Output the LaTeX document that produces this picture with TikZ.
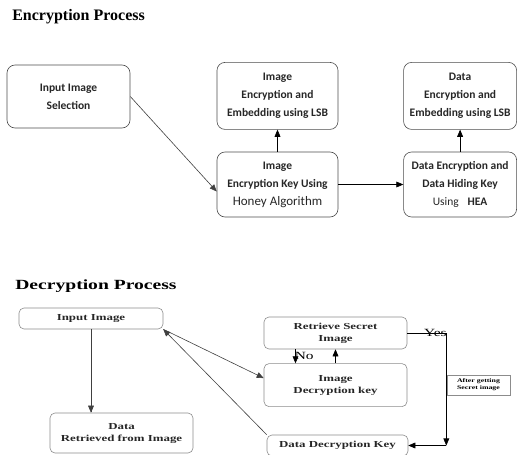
\documentclass[tikz,border=0pt]{standalone}
\usepackage{fontspec}
\setmainfont{Liberation Serif}
\newfontfamily\calfont{Carlito}
\newfontfamily\wideserif[FakeStretch=1.4]{Liberation Serif}
\usepackage{tikz}
\usetikzlibrary{arrows,positioning}

\begin{document}
\begin{tikzpicture}[x=1pt,y=-1pt,->,>=triangle 45,semithick,
		title node/.style={anchor=west, inner sep=0pt, font=\bfseries\fontsize{16}{18}\selectfont},
		enc node/.style={rectangle, draw=black!70, rounded corners=8pt, align=center, text=black!85, minimum width=121pt, minimum height=65pt, font=\calfont\bfseries\fontsize{11.5}{18}\selectfont},
		dec node/.style={rectangle, draw=black!45, rounded corners=5pt, align=center, text=black!85, minimum width=143pt, font=\wideserif\bfseries\fontsize{9.2}{12}\selectfont},
		note node/.style={rectangle, draw=black!45, align=center, inner sep=1pt, minimum width=63pt, minimum height=20pt, font=\wideserif\bfseries\fontsize{5.6}{7}\selectfont},
		answer/.style={font=\wideserif\fontsize{11}{12}\selectfont, inner sep=0pt}]

	\useasboundingbox (0,0) rectangle (517,455);

	% encryption
	\node[title node] (E) at (12,17) {Encryption Process};
	\node[enc node, minimum width=123pt, minimum height=63pt] (1) at (68.5,96.5) {Input Image\\Selection};
	\node[enc node] (2) at (277.5,184.5) {Image\\Encryption Key Using\\{\mdseries\fontsize{13}{18}\selectfont Honey Algorithm}};
	\node[enc node, minimum height=67pt] (3) [above=22pt of 2] {Image\\Encryption and\\Embedding using LSB};
	\node[enc node, minimum width=113pt] (4) [right=65pt of 2] {Data Encryption and\\Data Hiding Key\\{\mdseries Using}\hspace{9pt}HEA};
	\node[enc node, minimum width=113pt, minimum height=67pt] (5) [above=22pt of 4] {Data\\Encryption and\\Embedding using LSB};

	\path	(1.east)	edge[black!75] node{} ([yshift=-7pt]2.west);
	\path	(2)	edge[] node{} (3)
				edge[] node{} (4);
	\path	(4)	edge[] node{} (5);

	% decryption
	\node[title node, font=\wideserif\bfseries\fontsize{14}{16}\selectfont] (D) at (15,286) {Decryption Process};
	\node[dec node, minimum width=144pt, minimum height=21pt] (6) at (91,318.5) {Input Image};
	\node[dec node, minimum height=40pt] (7) at (121.5,433) {Data\\Retrieved from Image};
	\node[dec node, minimum height=32pt] (8) at (335.5,333) {Retrieve Secret\\Image};
	\node[dec node, minimum height=43pt] (9) [below=14pt of 8] {Image\\Decryption key};
	\node[dec node, minimum width=141pt, minimum height=21pt] (10) at (337.5,445.5) {Data Decryption Key};
	\node[note node] (11) at (478.5,385) {After getting\\Secret image};
	\coordinate[right=39pt of 8.east] (12);
	\coordinate (13) at (12 |- 10.east);

	\path	(6)	edge[black!75] node{} (6 |- 7.north);
	\path	(6.south east)	edge[black!75] node{} ([yshift=7pt]9.west);
	\path	(10.north west)	edge[black!75] node{} (6.south east);
	\path	([xshift=-40pt]8.south)	edge[] node[answer, right=-1pt]{No} ([xshift=-40pt]9.north);
	\path	(9)	edge[] node{} (8);
	\path	(8)	edge[-] node[answer, pos=.72]{Yes} (12);
	\path	(12)	edge[] node{} (13);
	\path	(13)	edge[] node{} (10);
\end{tikzpicture}
\end{document}
